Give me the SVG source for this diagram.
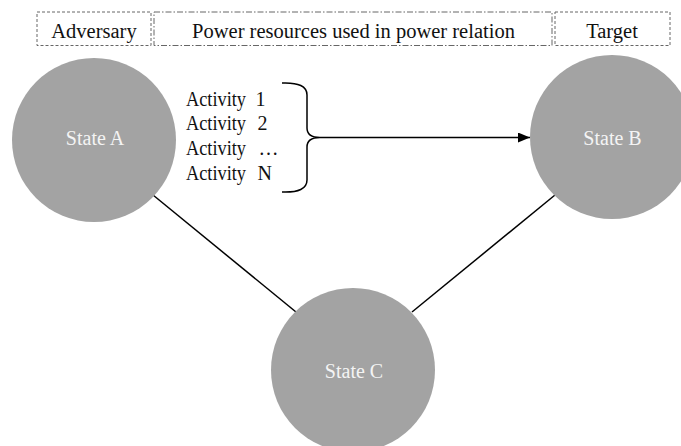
<svg xmlns="http://www.w3.org/2000/svg" width="681" height="446" viewBox="0 0 681 446">
<style>
.hdr{font-family:"Liberation Serif","Times New Roman",serif;font-size:20.5px;fill:#111;text-anchor:middle}
.act{font-family:"Liberation Serif","Times New Roman",serif;font-size:20px;fill:#111}
.lbl{font-family:"Liberation Serif","Times New Roman",serif;font-size:20px;fill:#f4f4f4;text-anchor:middle}
.node{fill:#a3a3a3}
.dash{fill:none;stroke:#666;stroke-width:1;stroke-dasharray:3 2}
.dashdot{fill:none;stroke:#666;stroke-width:1;stroke-dasharray:6 2 1.5 2}
.conn{fill:none;stroke:#000;stroke-width:1.5}
</style>
<defs>
<marker id="arr" markerWidth="12" markerHeight="10" refX="12" refY="5" orient="auto" markerUnits="userSpaceOnUse">
<path d="M0,0 L12,5 L0,10 Z" fill="#000"/>
</marker>
</defs>
<g id="header-adversary">
<rect class="dash" x="37" y="12" width="114" height="33.5"/>
<text class="hdr" x="94" y="38">Adversary</text>
</g>
<g id="header-power">
<rect class="dashdot" x="154" y="12" width="398" height="33.5"/>
<text class="hdr" x="353.5" y="38">Power resources used in power relation</text>
</g>
<g id="header-target">
<rect class="dash" x="555" y="12" width="115" height="33.5"/>
<text class="hdr" x="612" y="38">Target</text>
</g>
<g id="connectors">
<line class="conn" x1="153" y1="195" x2="296" y2="312"/>
<line class="conn" x1="555" y1="195" x2="412" y2="312"/>
<path class="conn" d="M282,83 Q307,82 307,95 L307,128 Q307,137.5 320,137.5 Q307,137.5 307,147 L307,180 Q307,193 282,192"/>
<line class="conn" x1="320" y1="137.5" x2="530" y2="137.5" marker-end="url(#arr)"/>
</g>
<g id="node-state-a">
<circle class="node" cx="94" cy="140" r="82"/>
<text class="lbl" x="95" y="145">State A</text>
</g>
<g id="node-state-b">
<circle class="node" cx="612" cy="137" r="82"/>
<text class="lbl" x="612.5" y="145">State B</text>
</g>
<g id="node-state-c">
<circle class="node" cx="353" cy="370" r="82"/>
<text class="lbl" x="354" y="378">State C</text>
</g>
<g id="activities">
<text class="act" y="106"><tspan x="186" textLength="60" lengthAdjust="spacingAndGlyphs">Activity</tspan> <tspan x="255.5">1</tspan></text>
<text class="act" y="130"><tspan x="186" textLength="60" lengthAdjust="spacingAndGlyphs">Activity</tspan> <tspan x="257.5">2</tspan></text>
<text class="act" y="155"><tspan x="186" textLength="60" lengthAdjust="spacingAndGlyphs">Activity</tspan> <tspan x="258.5">…</tspan></text>
<text class="act" y="180"><tspan x="186" textLength="60" lengthAdjust="spacingAndGlyphs">Activity</tspan> <tspan x="257.5">N</tspan></text>
</g>
</svg>
